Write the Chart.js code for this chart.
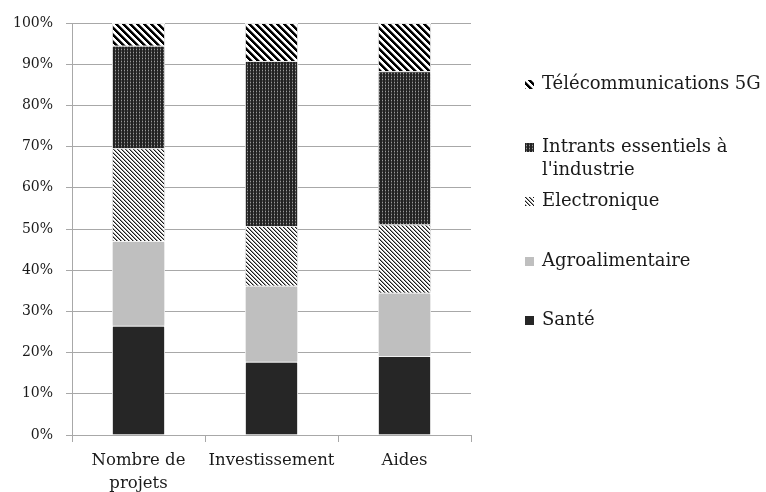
<!DOCTYPE html>
<html>
<head>
<meta charset="utf-8">
<script src="https://cdn.jsdelivr.net/npm/chart.js@4"></script>
<style>
  html, body { margin: 0; padding: 0; background: #fff; }
  #wrap { width: 766px; height: 492px; position: relative; }
</style>
</head>
<body>
<div id="wrap"><canvas id="chart" width="766" height="492"></canvas></div>
<script>
const categories = [["Nombre de", "projets"], "Investissement", "Aides"];
const seriesNames = ["Santé", "Agroalimentaire", "Electronique", "Intrants essentiels à l'industrie", "Télécommunications 5G"];
const sante = [26.5, 17.8, 19.2];
const agro = [20.6, 18.4, 15.3];
const electronique = [22.5, 14.5, 16.6];
const intrants = [24.9, 40.1, 37.2];
const telecom = [5.5, 9.2, 11.7];
const yTickStep = 10;

const FONT = "'DejaVu Serif', 'Liberation Serif', serif";

// small pixel tiles for the hatched fills
function makePattern(size, pick) {
  const c = document.createElement("canvas");
  c.width = size;
  c.height = size;
  const g = c.getContext("2d");
  for (let y = 0; y < size; y++) {
    for (let x = 0; x < size; x++) {
      g.fillStyle = pick(x, y);
      g.fillRect(x, y, 1, 1);
    }
  }
  return g.createPattern(c, "repeat");
}

const ctx = document.getElementById("chart").getContext("2d");

const fills = {
  sante: "#262626",
  agro: "#bfbfbf",
  electronique: makePattern(4, (x, y) => {
    const d = (x - y + 8) % 4;
    return d === 0 ? "#1a1a1a" : d === 1 ? "#9a9a9a" : "#ffffff";
  }),
  intrants: makePattern(3, (x, y) => (x === 1 && y === 1 ? "#9a9a9a" : x === 1 ? "#4a4a4a" : "#222222")),
  telecom: makePattern(7, (x, y) => {
    const d = (x - y + 14) % 7;
    return d < 3 ? "#000000" : d === 3 ? "#777777" : "#ffffff";
  }),
};

const legendRows = [84, 147, 201, 261, 320];

const sideLegend = {
  id: "sideLegend",
  afterDraw(chart) {
    const c = chart.ctx;
    const sets = chart.data.datasets.slice().reverse();
    c.save();
    c.font = "18px " + FONT;
    c.textBaseline = "middle";
    c.textAlign = "left";
    sets.forEach((ds, i) => {
      const y = legendRows[i];
      c.fillStyle = ds.backgroundColor;
      c.fillRect(525, y - 4, 9, 9);
      // wrap long names like the original
      const words = ds.label.split(" ");
      const lines = [];
      let cur = "";
      words.forEach((w) => {
        const test = cur ? cur + " " + w : w;
        if (c.measureText(test).width > 224 && cur) {
          lines.push(cur);
          cur = w;
        } else cur = test;
      });
      lines.push(cur);
      c.fillStyle = "#1a1a1a";
      lines.forEach((ln, j) => c.fillText(ln, 542, y + j * 23));
    });
    c.restore();
  },
};

// faint grey halo round the bars
const barHalo = {
  id: "barHalo",
  beforeDatasetsDraw(chart) {
    chart.ctx.save();
    chart.ctx.shadowColor = "rgba(0,0,0,0.25)";
    chart.ctx.shadowBlur = 3;
  },
  afterDatasetsDraw(chart) {
    chart.ctx.restore();
  },
};

const gridColor = "#a8a8a8";

new Chart(ctx, {
  type: "bar",
  data: {
    labels: categories,
    datasets: [
      { label: seriesNames[0], data: sante, backgroundColor: fills.sante },
      { label: seriesNames[1], data: agro, backgroundColor: fills.agro },
      { label: seriesNames[2], data: electronique, backgroundColor: fills.electronique },
      { label: seriesNames[3], data: intrants, backgroundColor: fills.intrants },
      { label: seriesNames[4], data: telecom, backgroundColor: fills.telecom },
    ].map((d) => ({ ...d, borderColor: "#ffffff", borderWidth: 1, categoryPercentage: 1, barPercentage: 0.4 })),
  },
  options: {
    responsive: false,
    animation: false,
    layout: { padding: { top: 23, right: 295, bottom: 0, left: 0 } },
    plugins: { legend: { display: false }, tooltip: { enabled: false } },
    scales: {
      x: {
        stacked: true,
        afterFit: (s) => { s.height = 57; },
        grid: { drawOnChartArea: false, drawTicks: true, tickLength: 7, color: gridColor },
        border: { color: gridColor },
        ticks: { color: "#1a1a1a", padding: 7, font: { family: FONT, size: 16.5, lineHeight: 1.4 }, maxRotation: 0, autoSkip: false },
      },
      y: {
        stacked: true,
        min: 0,
        max: 100,
        afterFit: (s) => { s.width = 72; },
        grid: { color: gridColor, tickLength: 6 },
        border: { color: gridColor },
        ticks: {
          stepSize: yTickStep,
          color: "#1a1a1a",
          padding: 13,
          font: { family: FONT, size: 14 },
          callback: (v) => v + "%",
        },
      },
    },
  },
  plugins: [barHalo, sideLegend],
});
</script>
</body>
</html>
